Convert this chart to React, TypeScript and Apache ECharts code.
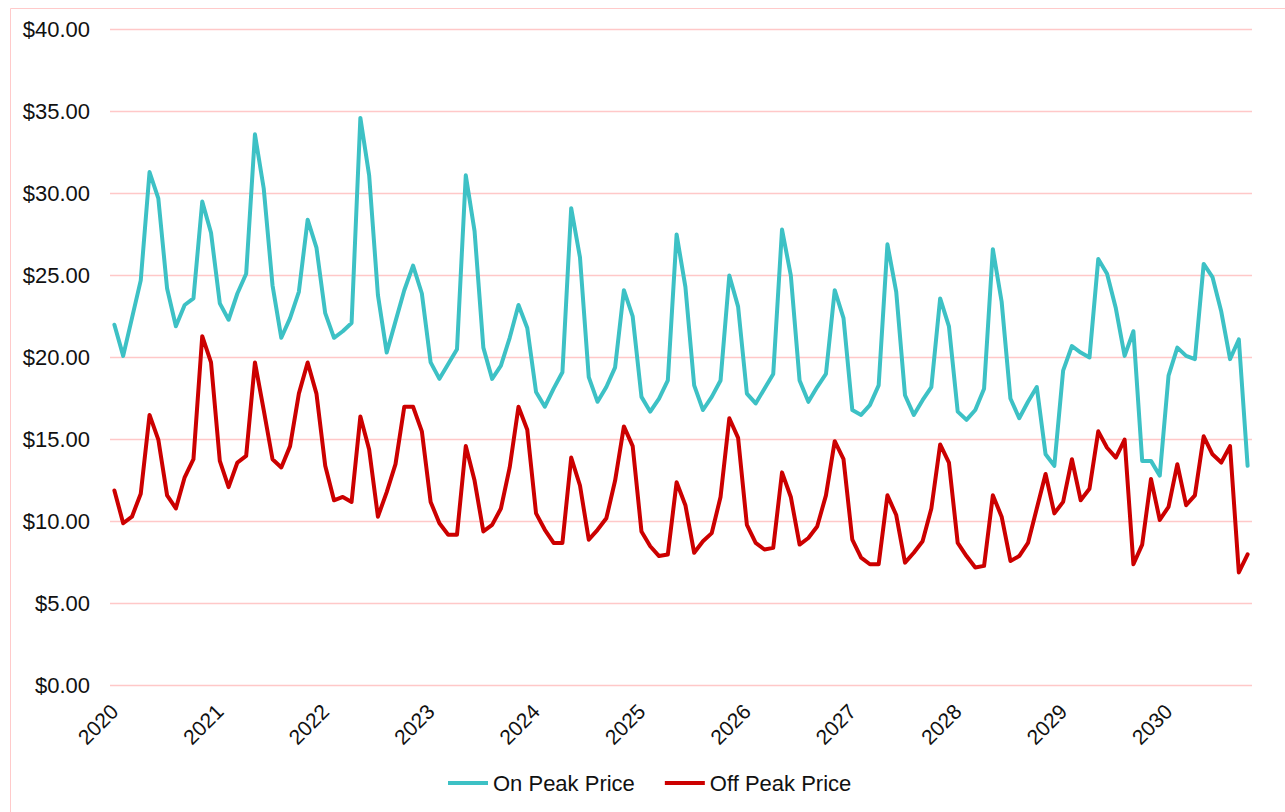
import React, { useEffect, useRef } from "react";
import * as echarts from "echarts";

const years = [2020, 2021, 2022, 2023, 2024, 2025, 2026, 2027, 2028, 2029, 2030];
const monthNums = ["01", "02", "03", "04", "05", "06", "07", "08", "09", "10", "11", "12"];
const pointCount = 130;

const onPeak = [
  22.0, 20.1, 22.4, 24.7, 31.3, 29.7, 24.2, 21.9, 23.2, 23.6, 29.5, 27.6,
  23.3, 22.3, 23.9, 25.1, 33.6, 30.3, 24.4, 21.2, 22.4, 24.0, 28.4, 26.7,
  22.7, 21.2, 21.6, 22.1, 34.6, 31.1, 23.8, 20.3, 22.2, 24.1, 25.6, 23.9,
  19.7, 18.7, 19.6, 20.5, 31.1, 27.7, 20.6, 18.7, 19.5, 21.2, 23.2, 21.8,
  17.9, 17.0, 18.1, 19.1, 29.1, 26.1, 18.8, 17.3, 18.2, 19.4, 24.1, 22.5,
  17.6, 16.7, 17.5, 18.6, 27.5, 24.3, 18.3, 16.8, 17.6, 18.6, 25.0, 23.1,
  17.8, 17.2, 18.1, 19.0, 27.8, 25.0, 18.6, 17.3, 18.2, 19.0, 24.1, 22.4,
  16.8, 16.5, 17.1, 18.3, 26.9, 24.0, 17.7, 16.5, 17.4, 18.2, 23.6, 21.9,
  16.7, 16.2, 16.8, 18.1, 26.6, 23.4, 17.5, 16.3, 17.3, 18.2, 14.1, 13.4,
  19.2, 20.7, 20.3, 20.0, 26.0, 25.1, 23.0, 20.1, 21.6, 13.7, 13.7, 12.8,
  18.9, 20.6, 20.1, 19.9, 25.7, 24.9, 22.8, 19.9, 21.1, 13.4,
];

const offPeak = [
  11.9, 9.9, 10.3, 11.7, 16.5, 15.0, 11.6, 10.8, 12.7, 13.8, 21.3, 19.7,
  13.7, 12.1, 13.6, 14.0, 19.7, 16.8, 13.8, 13.3, 14.6, 17.8, 19.7, 17.8,
  13.4, 11.3, 11.5, 11.2, 16.4, 14.4, 10.3, 11.8, 13.5, 17.0, 17.0, 15.5,
  11.2, 9.9, 9.2, 9.2, 14.6, 12.5, 9.4, 9.8, 10.8, 13.3, 17.0, 15.6,
  10.5, 9.5, 8.7, 8.7, 13.9, 12.2, 8.9, 9.5, 10.2, 12.5, 15.8, 14.6,
  9.4, 8.5, 7.9, 8.0, 12.4, 11.0, 8.1, 8.8, 9.3, 11.5, 16.3, 15.1,
  9.8, 8.7, 8.3, 8.4, 13.0, 11.5, 8.6, 9.0, 9.7, 11.6, 14.9, 13.8,
  8.9, 7.8, 7.4, 7.4, 11.6, 10.4, 7.5, 8.1, 8.8, 10.8, 14.7, 13.6,
  8.7, 7.9, 7.2, 7.3, 11.6, 10.3, 7.6, 7.9, 8.7, 10.8, 12.9, 10.5,
  11.2, 13.8, 11.3, 12.0, 15.5, 14.5, 13.9, 15.0, 7.4, 8.6, 12.6, 10.1,
  10.9, 13.5, 11.0, 11.6, 15.2, 14.1, 13.6, 14.6, 6.9, 8.0,
];

const seriesNames = ["On Peak Price", "Off Peak Price"];
const yTicks = { min: 0, max: 40, interval: 5 };

const categories: string[] = [];
for (const y of years) {
  for (const m of monthNums) {
    if (categories.length < pointCount) categories.push(`${y}-${m}`);
  }
}

const FONT = "'Liberation Sans', Arial, sans-serif";

export default function App() {
  const ref = useRef<HTMLDivElement>(null);
  useEffect(() => {
    if (!ref.current) return;
    const chart = echarts.init(ref.current, null, { renderer: "svg" });
    chart.setOption({
      animation: false,
      backgroundColor: "#ffffff",
      textStyle: { fontFamily: FONT },
      graphic: [
        {
          type: "rect",
          silent: true,
          shape: { x: 10.5, y: 8.5, width: 1300, height: 900 },
          style: { fill: "none", stroke: "#FFCACA", lineWidth: 1 },
        },
      ],
      grid: { left: 110, right: 33, top: 29.3, bottom: 126.3, containLabel: false },
      legend: {
        data: seriesNames,
        left: 448,
        top: 772,
        icon: "rect",
        itemWidth: 40,
        itemHeight: 4,
        itemGap: 30,
        padding: 0,
        textStyle: { fontSize: 22, color: "#111", fontFamily: FONT },
      },
      xAxis: {
        type: "category",
        data: categories,
        boundaryGap: true,
        axisLine: { show: false },
        axisTick: { show: false },
        splitLine: { show: false },
        axisLabel: {
          interval: (index: number) => index % 12 === 0,
          formatter: (v: string) => v.slice(0, 4),
          rotate: 45,
          margin: 22,
          fontSize: 21,
          color: "#111",
          fontFamily: FONT,
        },
      },
      yAxis: {
        type: "value",
        min: yTicks.min,
        max: yTicks.max,
        interval: yTicks.interval,
        axisLine: { show: false },
        axisTick: { show: false },
        splitLine: { show: true, lineStyle: { color: "#FFC8C8", width: 1.3, type: "solid" } },
        axisLabel: {
          formatter: (v: number) => "$" + v.toFixed(2),
          fontSize: 22,
          color: "#111",
          margin: 20,
          fontFamily: FONT,
        },
      },
      series: [
        {
          name: seriesNames[0],
          type: "line",
          data: onPeak,
          showSymbol: false,
          symbol: "none",
          color: "#3DC1C5",
          lineStyle: { width: 4, color: "#3DC1C5", join: "round", cap: "round" },
        },
        {
          name: seriesNames[1],
          type: "line",
          data: offPeak,
          showSymbol: false,
          symbol: "none",
          color: "#CC0000",
          lineStyle: { width: 4, color: "#CC0000", join: "round", cap: "round" },
        },
      ],
    });
    return () => chart.dispose();
  }, []);
  return (
    <div
      ref={ref}
      style={{ position: "absolute", left: 0, top: 0, width: 1285, height: 812 }}
    />
  );
}
